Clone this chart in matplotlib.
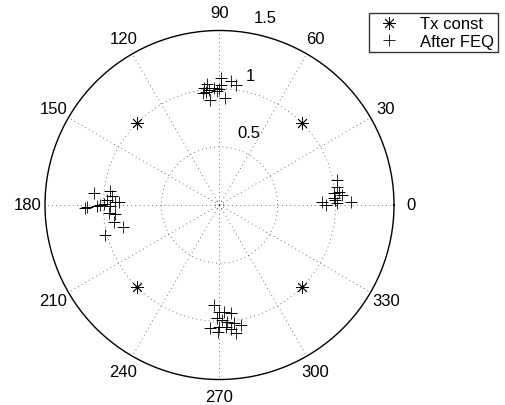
import numpy as np
import matplotlib
matplotlib.use("Agg")
import matplotlib.pyplot as plt

plt.rcParams['font.family'] = ['Liberation Sans', 'DejaVu Sans']

# Transmitted constellation points (real / imaginary parts)
tx_re = [0.707, -0.707, -0.707, 0.707]
tx_im = [0.707, 0.707, -0.707, -0.707]

# Received symbols after frequency-domain equalisation
rx_up_re = [0.017, 0.095, 0.138, -0.106, -0.129, -0.092, -0.141, -0.078,
            -0.006, 0.009, -0.020, 0.043, -0.112, -0.049]
rx_up_im = [1.090, 1.063, 1.029, 1.040, 1.006, 0.991, 0.963, 0.905,
            1.000, 1.029, 0.983, 0.920, 0.971, 1.006]
rx_right_re = [1.014, 1.014, 0.986, 1.057, 0.885, 0.914, 1.014, 1.129,
               0.986, 1.029, 0.994]
rx_right_im = [0.216, 0.158, 0.101, 0.086, 0.029, 0.000, 0.014, 0.023,
               0.057, 0.115, 0.043]
rx_left_re = [-1.083, -0.940, -0.925, -1.135, -1.155, -1.026, -1.055, -0.968,
              -0.897, -0.868, -0.954, -0.897, -0.911, -0.830, -0.983, -0.940,
              -0.997]
rx_left_im = [0.101, 0.121, 0.080, -0.014, -0.023, 0.000, -0.006, 0.043,
              0.029, 0.023, -0.072, -0.080, -0.144, -0.187, -0.259, -0.006,
              0.006]
rx_down_re = [-0.049, -0.006, 0.037, 0.101, -0.020, 0.023, 0.066, 0.124,
              0.187, -0.078, -0.006, 0.095, 0.138, -0.014, 0.052]
rx_down_im = [-0.862, -0.920, -0.920, -0.925, -0.971, -0.991, -1.006, -1.011,
              -1.029, -1.057, -1.049, -1.063, -1.101, -1.092, -1.049]

angle_ticks = list(range(0, 360, 30))
angle_labels = [str(a) for a in angle_ticks]
ring_values = [0.5, 1.0, 1.5]
ring_labels = ["0.5", "1", "1.5"]
r_max = 1.5

tx = np.array(tx_re) + 1j * np.array(tx_im)
rx = np.concatenate([
    np.array(rx_up_re) + 1j * np.array(rx_up_im),
    np.array(rx_right_re) + 1j * np.array(rx_right_im),
    np.array(rx_left_re) + 1j * np.array(rx_left_im),
    np.array(rx_down_re) + 1j * np.array(rx_down_im),
])

W, H = 505, 406
fig = plt.figure(figsize=(W / 100, H / 100), dpi=100)
cx, cy, rad = 219.5, 206.0, 174.5
ax = fig.add_axes([(cx - rad) / W, (H - cy - rad) / H, 2 * rad / W, 2 * rad / H],
                  projection='polar')
ax.set_ylim(0, r_max)
ax.set_thetagrids(angle_ticks, [''] * len(angle_ticks))
ax.set_rgrids([0.035, 0.5, 1.0], [''] * 3)
ax.grid(True, linestyle=(0, (1, 4)), color='#444444', linewidth=0.6)
ax.spines['polar'].set_linewidth(1.0)
ax.spines['polar'].set_color('black')
ax.tick_params(length=0)

ax.plot(np.angle(tx), np.abs(tx), linestyle='none', marker=(8, 2, 0),
        markersize=9, markeredgewidth=0.6, color='black', label='Tx const')
ax.plot(np.angle(rx), np.abs(rx), linestyle='none', marker='+',
        markersize=9, markeredgewidth=0.6, color='black', label='After FEQ')

fs = 12
# angle labels around the outer circle
for a, lab in zip(angle_ticks, angle_labels):
    t = np.deg2rad(a)
    ax.annotate(lab, xy=(t, r_max), xytext=(17.5 * np.cos(t), 17.5 * np.sin(t)),
                textcoords='offset pixels', ha='center', va='center',
                fontsize=fs, annotation_clip=False)

# radial labels along the 82 degree direction
for rv, lab in zip(ring_values, ring_labels):
    ax.annotate(lab, xy=(np.deg2rad(82), rv), xytext=(10, 7),
                textcoords='offset pixels', ha='left', va='bottom',
                fontsize=fs, annotation_clip=False)

leg = fig.legend(loc='upper right', bbox_to_anchor=(497.7 / W, 1 - 14 / H),
                 fontsize=fs, frameon=True, fancybox=False, borderpad=0.2,
                 labelspacing=0.15, handlelength=2.0, handletextpad=0.9,
                 borderaxespad=0)
leg.get_frame().set_edgecolor('black')
leg.get_frame().set_linewidth(1.0)

fig.savefig('out.png', dpi=100)
